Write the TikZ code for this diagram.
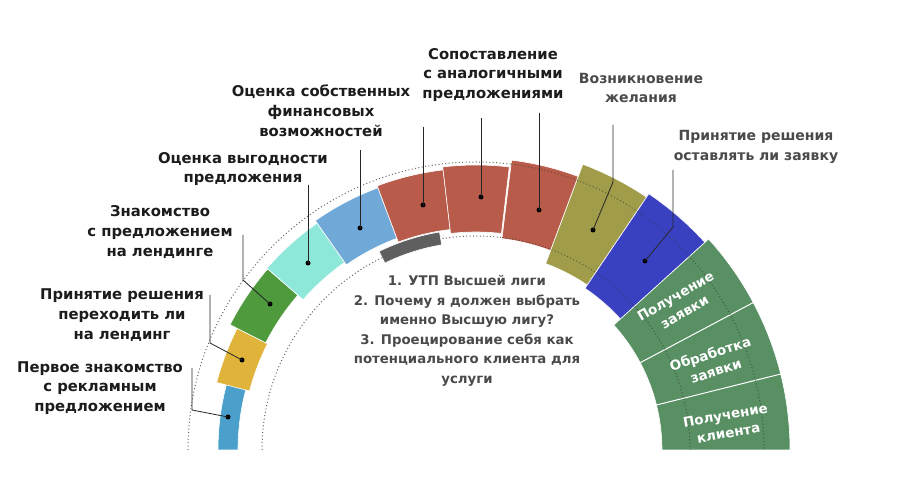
\documentclass[tikz,border=0pt]{standalone}
\usepackage{fontspec}
\setmainfont{DejaVu Sans}
\definecolor{cLtBlue}{HTML}{4AA0CB}
\definecolor{cYellow}{HTML}{E0B43B}
\definecolor{cDGreen}{HTML}{4E9A3D}
\definecolor{cAqua}{HTML}{8EE8DA}
\definecolor{cSBlue}{HTML}{70A9D8}
\definecolor{cRed}{HTML}{B85B4B}
\definecolor{cOlive}{HTML}{A09C4A}
\definecolor{cBlue}{HTML}{3A41C1}
\definecolor{cGreen}{HTML}{588F63}
\definecolor{cGrayArc}{HTML}{5F5F5F}
\definecolor{cTxt}{HTML}{1C1C1C}
\definecolor{cTxtG}{HTML}{4A4A4A}
\newcommand\mkseg[5]{\fill[#1,draw=white,line width=0.6pt,shift={(476,450)}] (#2:#4pt) arc[start angle=#2,end angle=#3,radius=#4pt] -- (#3:#5pt) arc[start angle=#3,end angle=#2,radius=#5pt] -- cycle;}
\begin{document}
\begin{tikzpicture}[x=1pt,y=-1pt,
  lbl/.style={align=center,font=\fontsize{14.8}{19.8}\selectfont\bfseries,text=cTxt,inner sep=0pt},
  lblg/.style={align=center,font=\fontsize{14}{19.8}\selectfont\bfseries,text=cTxtG,inner sep=0pt},
  ctr/.style={align=center,font=\fontsize{13.3}{19.5}\selectfont\bfseries,text=cTxtG,inner sep=0pt},
  gtxt/.style={align=center,font=\fontsize{13.5}{18}\selectfont\bfseries,text=white,inner sep=0pt},
  dotc/.style={draw=black!60,line width=1pt,dash pattern=on 1pt off 2.4pt},
  dotf/.style={draw=black!80,opacity=0.6,line width=1pt,dash pattern=on 1pt off 2.4pt},
  leader/.style={draw=black!85,line width=0.8pt},
  dotm/.style={fill=black,circle,inner sep=0pt,minimum size=5pt}]
\useasboundingbox[fill=white] (0,0) rectangle (900,502);
% dotted guide circles (behind)
\draw[dotc,shift={(476,450)}] (180:288pt) arc[start angle=180,end angle=0,radius=288pt];
\draw[dotc,shift={(476,450)}] (180:214pt) arc[start angle=180,end angle=0,radius=214pt];
% segments
\mkseg{cLtBlue}{165}{180}{238}{258}
\mkseg{cYellow}{153}{165.4}{234}{268}
\mkseg{cDGreen}{139}{153}{236}{276}
\mkseg{cAqua}{125}{139}{229}{277}
\mkseg{cSBlue}{110.5}{125}{226}{280}
\mkseg{cRed}{96.7}{110.5}{222}{282}
\mkseg{cRed}{83.3}{96.7}{218}{285}
\mkseg{cRed}{69.5}{83}{213}{292}
\mkseg{cOlive}{56}{69.5}{199}{305}
\mkseg{cBlue}{42.2}{56}{195}{309}
\mkseg{cGreen}{0}{42.2}{186}{314}
\mkseg{cGrayArc}{99.5}{116}{208}{221}
% green dividers
\draw[white,line width=1pt,shift={(476,450)}] (14:186pt) -- (14:314pt) (28:186pt) -- (28:314pt);
% dotted circles over the right-hand segments
\draw[dotf,shift={(476,450)}] (83:288pt) arc[start angle=83,end angle=0,radius=288pt];
\draw[dotf,shift={(476,450)}] (83:214pt) arc[start angle=83,end angle=0,radius=214pt];
% labels
\node[lbl] (l1) at (100,388) {Первое знакомство\\с рекламным\\предложением};
\node[lbl] (l2) at (122,315) {Принятие решения\\переходить ли\\на лендинг};
\node[lbl] (l3) at (160,232) {Знакомство\\с предложением\\на лендинге};
\node[lbl] (l4) at (243,169) {Оценка выгодности\\предложения};
\node[lbl] (l5) at (321,111) {Оценка собственных\\финансовых\\возможностей};
\node[lbl] (l6) at (493,75) {Сопоставление\\с аналогичными\\предложениями};
\node[lblg] (l7) at (641,88) {Возникновение\\желания};
\node[lblg] (l8) at (756,147) {Принятие решения\\оставлять ли заявку};
\node[ctr] (ct) at (467,331) {1. УТП Высшей лиги\\2. Почему я должен выбрать\\именно Высшую лигу?\\3. Проецирование себя как\\потенциального клиента для\\услуги};
\node[gtxt,rotate=30] (g1) at (680,304) {Получение\\заявки};
\node[gtxt,rotate=18] (g2) at (713,362) {Обработка\\заявки};
\node[gtxt,rotate=10] (g3) at (727,424) {Получение\\клиента};
% leader points
\coordinate (s1) at (192,368); \coordinate (b1) at (192,410); \node[dotm] (d1) at (228,417) {};
\coordinate (s2) at (210,295); \coordinate (b2) at (210,343); \node[dotm] (d2) at (242,360) {};
\coordinate (s3) at (243,235); \coordinate (b3) at (243,280); \node[dotm] (d3) at (270,304) {};
\coordinate (s4) at (308,185); \node[dotm] (d4) at (308,263) {};
\coordinate (s5) at (360,150); \node[dotm] (d5) at (360,228) {};
\coordinate (s6) at (423,127); \node[dotm] (d6) at (423,205) {};
\coordinate (s7) at (481,118); \node[dotm] (d7) at (481,197) {};
\coordinate (s8) at (539,113); \node[dotm] (d8) at (539,210) {};
\coordinate (s9) at (613,125); \coordinate (b9) at (613,182); \node[dotm] (d9) at (593,230) {};
\coordinate (s10) at (673,170); \coordinate (b10) at (673,227); \node[dotm] (d10) at (645,261) {};
\draw[leader] (s1) -- (b1) -- (d1.center);
\draw[leader] (s2) -- (b2) -- (d2.center);
\draw[leader] (s3) -- (b3) -- (d3.center);
\draw[leader] (s4) -- (d4.center);
\draw[leader] (s5) -- (d5.center);
\draw[leader] (s6) -- (d6.center);
\draw[leader] (s7) -- (d7.center);
\draw[leader] (s8) -- (d8.center);
\draw[leader] (s9) -- (b9) -- (d9.center);
\draw[leader] (s10) -- (b10) -- (d10.center);
\end{tikzpicture}
\end{document}
